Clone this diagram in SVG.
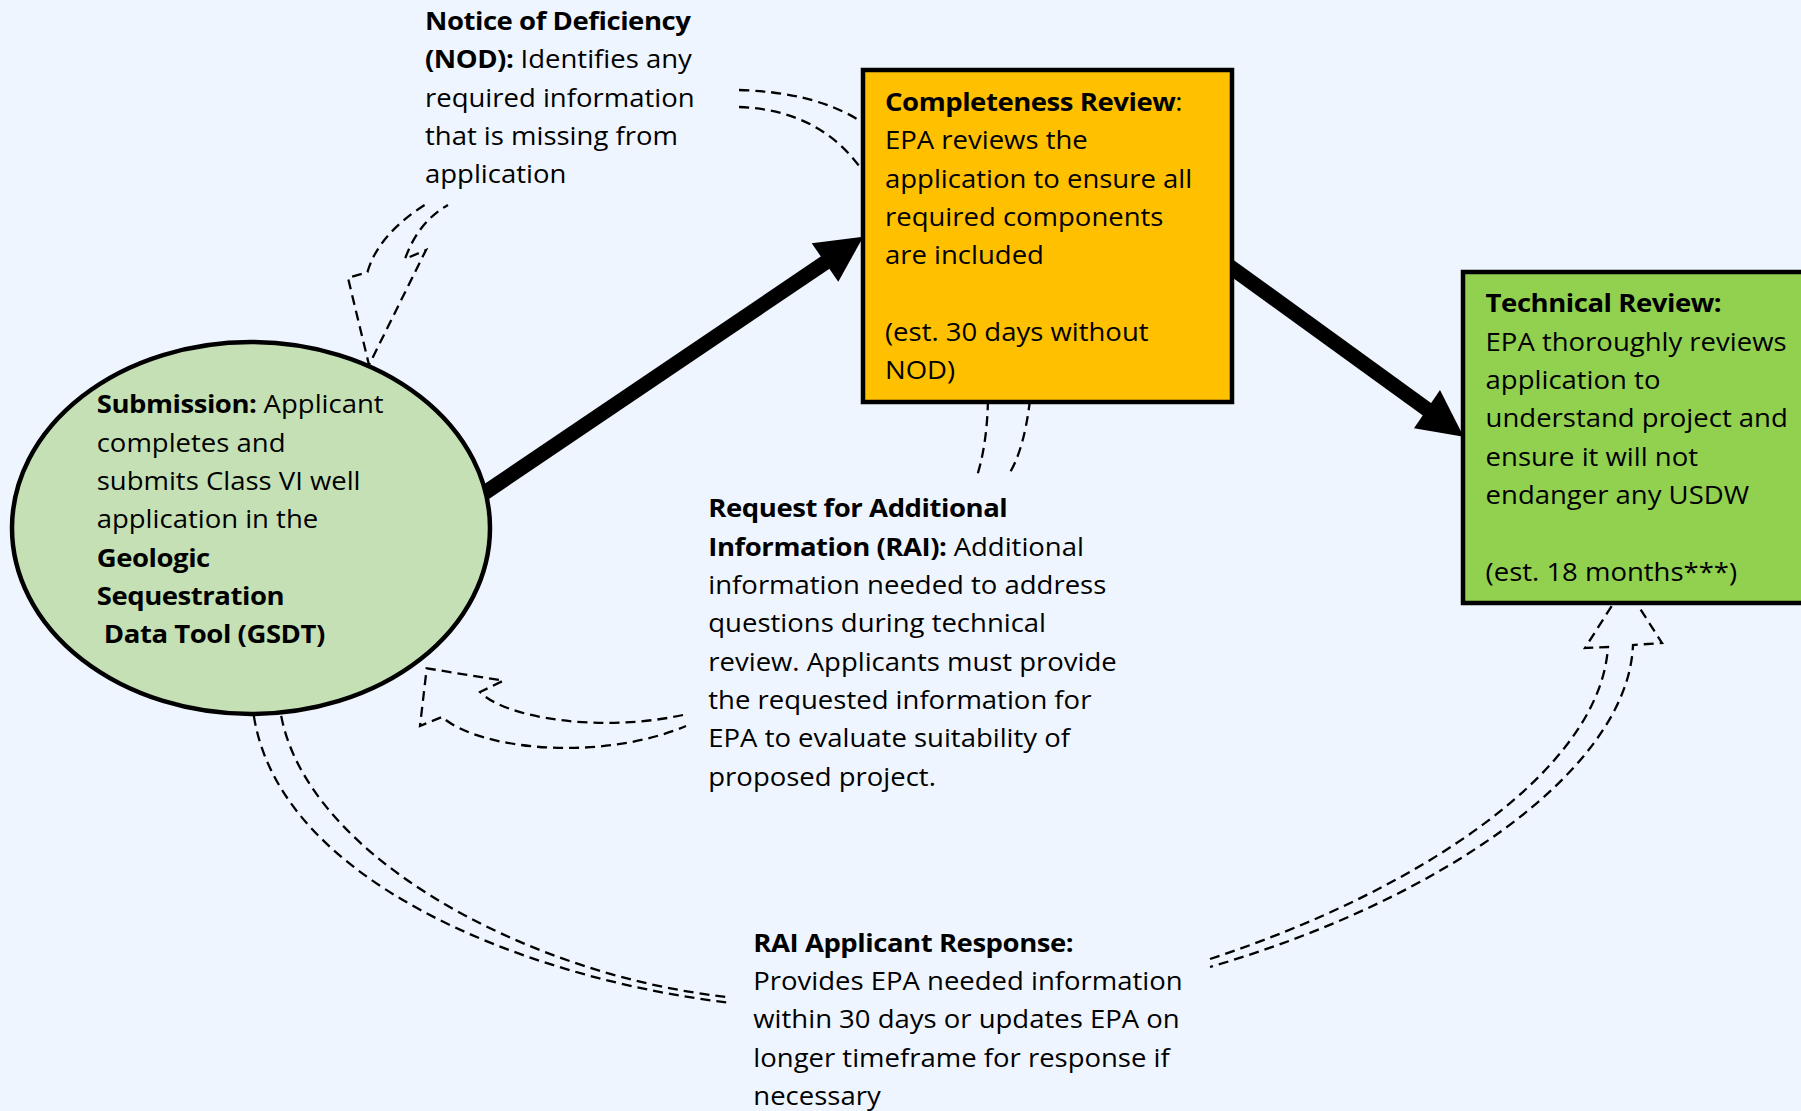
<svg xmlns="http://www.w3.org/2000/svg" width="1801" height="1111" viewBox="0 0 1801 1111">
<style>
.t{font-family:"Open Sans","Liberation Sans",sans-serif;font-size:25px;fill:#000}
.b{font-weight:bold;letter-spacing:-0.4px}
.d{fill:none;stroke:#000;stroke-width:2.3;stroke-dasharray:10 6}
.thick{stroke:#000;stroke-width:15;fill:none}
.node{stroke:#000;stroke-width:4.5}
</style>
<rect width="1801" height="1111" fill="#EFF5FE"/>
<g id="connectors">
  <!-- NOD curved arrow (dashed block arrow) -->
  <path class="d" d="M739,90 Q815,92 862,122"/>
  <path class="d" d="M739,107 Q820,110 862,170"/>
  <path class="d" d="M424.6,205 Q378,235 367.5,272 L348,278 L369,365 L426,250 L405,259 Q418,222 448,205"/>
  <!-- RAI curved arrow -->
  <path class="d" d="M988,400 Q987,445 976.7,477"/>
  <path class="d" d="M1030,400 Q1024,450 1009,474"/>
  <path class="d" d="M683,715 C600,733 505,718 480,692 L503.3,680.7 L426.7,668.3 L420,726 L442,717 C480,750 600,762 686,726"/>
  <!-- RAI response curved arrow -->
  <path class="d" d="M252,700 C265,880 530,980 732,1003"/>
  <path class="d" d="M279,700 C292,850 525,975 727,997"/>
  <path class="d" d="M1210,959 C1420,890 1600,770 1608,647 L1585,648 L1625,585 L1662,643 L1633,645 C1628,770 1440,900 1210,967"/>
  <!-- main thick arrows -->
  <line class="thick" x1="480" y1="496" x2="826" y2="262"/>
  <polygon points="863.3,236.7 811.7,243.3 838.3,281.7" fill="#000"/>
  <line class="thick" x1="1225" y1="263" x2="1428" y2="410"/>
  <polygon points="1463.7,436.7 1440,390 1414,428.3" fill="#000"/>
</g>
<g id="submission">
  <ellipse class="node" cx="251" cy="528" rx="239" ry="186" fill="#C5E0B4"/>
  <text class="t" transform="translate(96.7 0) scale(1.1 1)">
    <tspan x="0" y="413.3"><tspan class="b">Submission:</tspan> Applicant</tspan>
    <tspan x="0" y="451.7">completes and</tspan>
    <tspan x="0" y="490">submits Class VI well</tspan>
    <tspan x="0" y="528.3">application in the</tspan>
    <tspan x="0" y="566.7" class="b">Geologic</tspan>
    <tspan x="0" y="605" class="b">Sequestration</tspan>
    <tspan x="6.5" y="643.3" class="b">Data Tool (GSDT)</tspan>
  </text>
</g>
<g id="completeness">
  <rect class="node" x="863" y="70" width="369" height="332" fill="#FFC000"/>
  <text class="t" transform="translate(885 0) scale(1.1 1)">
    <tspan x="0" y="110.7"><tspan class="b">Completeness Review</tspan>:</tspan>
    <tspan x="0" y="149.3">EPA reviews the</tspan>
    <tspan x="0" y="187.7">application to ensure all</tspan>
    <tspan x="0" y="226">required components</tspan>
    <tspan x="0" y="264.3">are included</tspan>
    <tspan x="0" y="341">(est. 30 days without</tspan>
    <tspan x="0" y="379.4">NOD)</tspan>
  </text>
</g>
<g id="technical">
  <rect class="node" x="1463" y="272" width="350" height="331" fill="#92D050"/>
  <text class="t" transform="translate(1485.6 0) scale(1.1 1)">
    <tspan x="0" y="312.3" class="b">Technical Review:</tspan>
    <tspan x="0" y="350.7">EPA thoroughly reviews</tspan>
    <tspan x="0" y="389">application to</tspan>
    <tspan x="0" y="427.3">understand project and</tspan>
    <tspan x="0" y="465.7">ensure it will not</tspan>
    <tspan x="0" y="504">endanger any USDW</tspan>
    <tspan x="0" y="581">(est. 18 months***)</tspan>
  </text>
</g>
<g id="nod">
  <text class="t" transform="translate(425 0) scale(1.1 1)">
    <tspan x="0" y="29.9" class="b">Notice of Deficiency</tspan>
    <tspan x="0" y="68.3"><tspan class="b">(NOD):</tspan> Identifies any</tspan>
    <tspan x="0" y="106.7">required information</tspan>
    <tspan x="0" y="145.1">that is missing from</tspan>
    <tspan x="0" y="183.5">application</tspan>
  </text>
</g>
<g id="rai">
  <text class="t" transform="translate(708.3 0) scale(1.1 1)">
    <tspan x="0" y="517.3" class="b">Request for Additional</tspan>
    <tspan x="0" y="555.7"><tspan class="b">Information (RAI):</tspan> Additional</tspan>
    <tspan x="0" y="594">information needed to address</tspan>
    <tspan x="0" y="632.3">questions during technical</tspan>
    <tspan x="0" y="670.7">review. Applicants must provide</tspan>
    <tspan x="0" y="709">the requested information for</tspan>
    <tspan x="0" y="747.3">EPA to evaluate suitability of</tspan>
    <tspan x="0" y="785.7">proposed project.</tspan>
  </text>
</g>
<g id="rai-response">
  <text class="t" transform="translate(753.3 0) scale(1.1 1)">
    <tspan x="0" y="951.7" class="b">RAI Applicant Response:</tspan>
    <tspan x="0" y="990">Provides EPA needed information</tspan>
    <tspan x="0" y="1028.3">within 30 days or updates EPA on</tspan>
    <tspan x="0" y="1066.7">longer timeframe for response if</tspan>
    <tspan x="0" y="1105">necessary</tspan>
  </text>
</g>
</svg>
